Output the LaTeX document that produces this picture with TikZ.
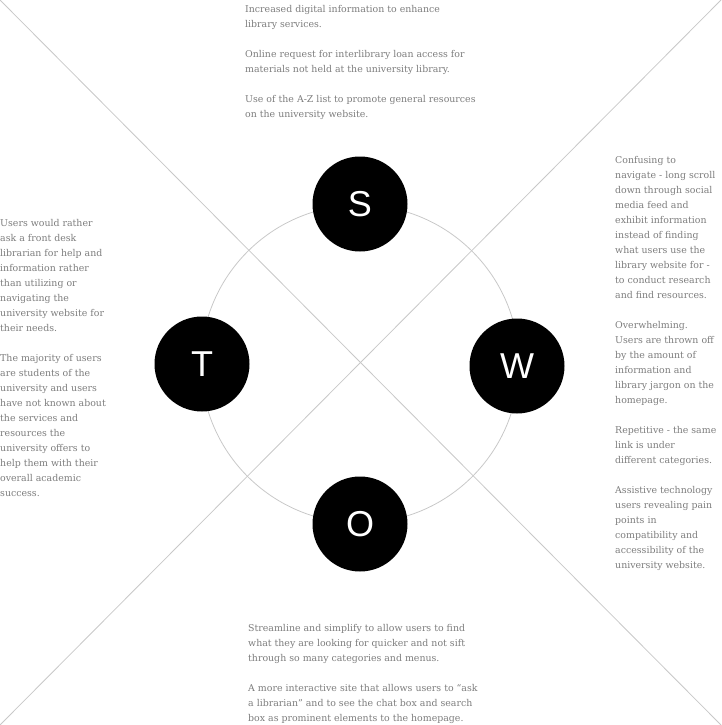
\documentclass[tikz,border=0pt]{standalone}
\usepackage{fontspec}
\setmainfont{DejaVu Serif}
\newfontfamily\letterfont{Liberation Sans}
\usepackage{tikz}
\usetikzlibrary{positioning}
\definecolor{notegray}{RGB}{125,125,125}
\definecolor{rulegray}{RGB}{200,200,200}

\begin{document}
\begin{tikzpicture}[
x=1pt, y=-1pt,
letter/.style={circle, fill=black, minimum size=95pt, inner sep=0pt, text=white, font=\letterfont\fontsize{36}{36}\selectfont},
note/.style={anchor=north west, inner sep=0pt, align=left, text=notegray, font=\fontsize{9.4}{15}\selectfont},
guide/.style={draw=rulegray, line width=0.8pt}
]
\useasboundingbox (0,0) rectangle (721,725);
\coordinate (nw) at (0,0);
\coordinate (ne) at (721,0);
\coordinate (sw) at (0,725);
\coordinate (se) at (721,725);
\coordinate (mid) at (360,364);
\draw[guide] (nw) -- (se);
\draw[guide] (ne) -- (sw);
\draw[guide] (mid) circle[radius=159pt];
\node[letter] (s) at (360,204) {S};
\node[letter] (w) at (517,366) {W};
\node[letter] (o) at (360,524) {O};
\node[letter] (t) at (202,364) {T};
\node[note] (strengths) at (245,5) {Increased digital information to enhance\\library services.\\[15pt]Online request for interlibrary loan access for\\materials not held at the university library.\\[15pt]Use of the A-Z list to promote general resources\\on the university website.};
\node[note] (weaknesses) at (615,156) {Confusing to\\navigate - long scroll\\down through social\\media feed and\\exhibit information\\instead of finding\\what users use the\\library website for -\\to conduct research\\and find resources.\\[15pt]Overwhelming.\\Users are thrown off\\by the amount of\\information and\\library jargon on the\\homepage.\\[15pt]Repetitive - the same\\link is under\\different categories.\\[15pt]Assistive technology\\users revealing pain\\points in\\compatibility and\\accessibility of the\\university website.};
\node[note] (threats) at (0,219) {Users would rather\\ask a front desk\\librarian for help and\\information rather\\than utilizing or\\navigating the\\university website for\\their needs.\\[15pt]The majority of users\\are students of the\\university and users\\have not known about\\the services and\\resources the\\university offers to\\help them with their\\overall academic\\success.};
\node[note] (opportunities) at (248,624) {Streamline and simplify to allow users to find\\what they are looking for quicker and not sift\\through so many categories and menus.\\[15pt]A more interactive site that allows users to ``ask\\a librarian'' and to see the chat box and search\\box as prominent elements to the homepage.};
\end{tikzpicture}
\end{document}
